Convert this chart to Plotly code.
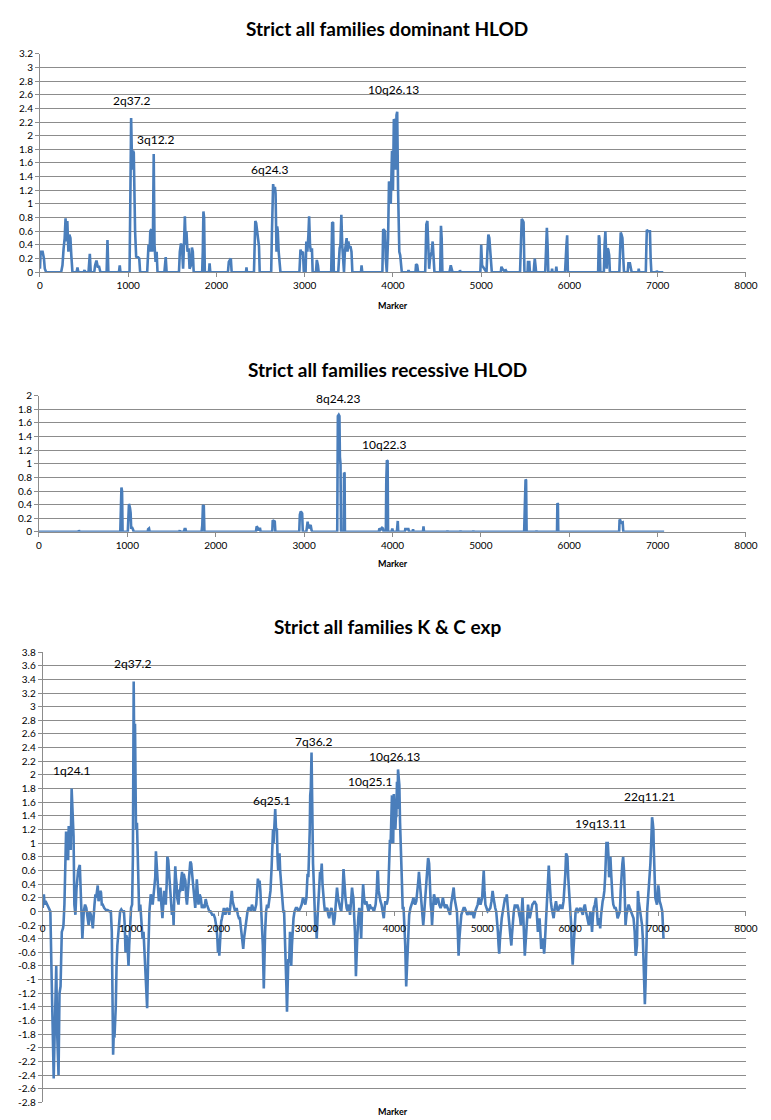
import plotly.graph_objects as go

W, H = 771, 1120

# ---------------- data (marker, value) ----------------
dom_pts = [
    (0,0.05),(8,0.3),(30,0.3),(45,0.2),(55,0.05),(70,0),(240,0),(255,0.1),(268,0.35),(280,0.5),
    (290,0.79),(300,0.45),(310,0.75),(322,0.3),(333,0.55),(345,0.5),(355,0.25),(368,0),(415,0),(425,0.07),
    (435,0),(495,0),(505,0.03),(515,0),(550,0),(558,0.2),(565,0.27),(575,0),(615,0),(625,0.1),
    (640,0.17),(655,0.08),(670,0.08),(685,0),(755,0),(765,0.47),(775,0),(895,0),(904,0.1),(912,0),
    (1015,0),(1025,1.2),(1033,2.26),(1045,1.5),(1055,1.78),(1063,1.75),(1070,0.9),(1078,0.6),(1090,0.23),(1110,0.22),
    (1125,0.2),(1135,0),(1215,0),(1222,0.15),(1230,0.4),(1242,0.3),(1250,0.6),(1262,0.63),(1272,0.3),(1280,0.5),
    (1289,1.73),(1298,0.4),(1310,0.15),(1322,0.3),(1332,0),(1410,0),(1418,0.2),(1425,0.22),(1435,0),(1575,0),
    (1585,0.3),(1598,0.42),(1610,0.35),(1622,0.05),(1632,0.4),(1642,0.82),(1652,0.4),(1660,0.6),(1672,0.3),(1685,0.35),
    (1695,0.05),(1710,0.1),(1722,0.36),(1732,0.3),(1742,0),(1838,0),(1845,0.3),(1852,0.89),(1860,0.8),(1868,0),
    (1915,0),(1922,0.13),(1930,0),(2130,0),(2140,0.15),(2155,0.2),(2163,0.2),(2172,0),(2335,0),(2340,0.07),
    (2346,0),(2425,0),(2432,0.5),(2440,0.75),(2450,0.72),(2460,0.6),(2470,0.45),(2482,0.38),(2490,0),(2620,0),
    (2628,0.55),(2635,1.2),(2642,1.29),(2652,1.18),(2662,1.25),(2670,1.15),(2680,0.3),(2688,0.67),(2695,0.6),(2705,0.3),
    (2715,0.1),(2725,0),(2940,0),(2947,0.2),(2952,0.33),(2965,0.28),(2980,0.3),(2990,0),(3010,0),(3018,0.45),
    (3030,0.3),(3042,0.55),(3050,0.82),(3060,0.4),(3070,0.3),(3082,0.35),(3090,0),(3128,0),(3137,0.18),(3150,0.1),
    (3158,0),(3300,0),(3305,0.5),(3311,0.73),(3322,0.72),(3330,0),(3380,0),(3390,0.3),(3396,0.35),(3405,0.4),
    (3415,0.84),(3425,0.4),(3435,0.1),(3445,0),(3455,0.3),(3465,0.4),(3475,0.5),(3485,0.3),(3495,0.45),(3505,0.35),
    (3518,0.38),(3530,0.3),(3540,0),(3638,0),(3644,0.1),(3652,0),(3880,0),(3889,0.63),(3900,0.62),(3910,0.6),
    (3918,0.2),(3930,0),(3945,0.5),(3955,1.33),(3963,1.3),(3975,1.0),(3989,1.78),(4000,1.2),(4010,2.24),(4020,2.22),
    (4030,1.5),(4040,2.3),(4048,2.35),(4058,1.2),(4065,0.6),(4072,0.3),(4082,0.25),(4092,0.15),(4100,0),(4170,0),
    (4176,0.03),(4185,0),(4255,0),(4262,0.12),(4275,0.1),(4285,0),(4365,0),(4372,0.35),(4378,0.7),(4390,0.75),
    (4400,0.4),(4410,0.05),(4420,0.2),(4438,0.3),(4450,0.45),(4460,0.2),(4470,0),(4535,0),(4540,0.55),(4544,0.68),
    (4552,0.5),(4560,0),(4640,0),(4648,0.05),(4655,0.1),(4665,0.05),(4675,0),(4755,0),(4759,0.03),(4765,0),
    (4990,0),(4996,0.2),(5000,0.4),(5010,0.1),(5060,0),(5070,0.3),(5081,0.55),(5092,0.5),(5100,0.35),(5112,0.05),
    (5120,0),(5222,0),(5229,0.08),(5240,0.05),(5260,0.02),(5278,0.03),(5290,0),(5440,0),(5450,0.5),(5459,0.78),
    (5470,0.76),(5480,0.73),(5490,0),(5525,0),(5530,0.15),(5545,0.15),(5552,0),(5595,0),(5600,0.1),(5607,0.2),
    (5615,0.1),(5622,0),(5725,0),(5735,0.35),(5744,0.65),(5752,0.4),(5760,0),(5798,0),(5803,0.05),(5808,0),
    (5845,0),(5851,0.08),(5858,0),(5950,0),(5958,0.3),(5966,0.4),(5974,0.54),(5982,0),(6325,0),(6333,0.54),
    (6340,0.5),(6350,0),(6390,0),(6398,0.4),(6407,0.6),(6415,0.3),(6422,0.05),(6432,0.35),(6440,0.33),(6450,0.25),
    (6458,0),(6565,0),(6572,0.45),(6581,0.58),(6590,0.55),(6600,0.5),(6610,0.2),(6618,0),(6660,0),(6668,0.13),
    (6685,0.13),(6695,0.08),(6705,0),(6780,0),(6785,0.05),(6790,0),(6865,0),(6872,0.4),(6877,0.62),(6890,0.6),
    (6905,0.6),(6912,0.6),(6920,0.2),(6928,0),(6985,0),(6990,0.02),(6998,0),(7063,0),
]

rec_pts = [
    (0,0),(445,0),(452,0.02),(460,0),(920,0),(926,0.2),(933,0.65),(940,0.6),(946,0),(1005,0),
    (1012,0.3),(1018,0.41),(1030,0.35),(1037,0.28),(1043,0.06),(1055,0.06),(1065,0.03),(1072,0),(1230,0),(1235,0.04),
    (1245,0.05),(1252,0),(1585,0),(1593,0.02),(1600,0),(1640,0),(1648,0.04),(1658,0.04),(1665,0),(1840,0),
    (1848,0.1),(1855,0.38),(1865,0.39),(1872,0),(2455,0),(2463,0.08),(2475,0.06),(2485,0.02),(2500,0.06),(2508,0),
    (2640,0),(2645,0.17),(2655,0.16),(2668,0.15),(2675,0),(2945,0),(2952,0.25),(2963,0.3),(2978,0.27),(2985,0),
    (3025,0),(3032,0.15),(3040,0.15),(3050,0.05),(3065,0.1),(3074,0.1),(3085,0.02),(3095,0),(3375,0),(3382,1.7),
    (3392,1.72),(3400,1.7),(3405,1.1),(3412,1.0),(3418,0),(3448,0),(3452,0.87),(3458,0.86),(3462,0),(3845,0),
    (3852,0.05),(3865,0.03),(3882,0.06),(3892,0.05),(3900,0),(3925,0),(3930,0.75),(3937,1.05),(3945,1.04),(3950,0),
    (3990,0),(3998,0.05),(4005,0),(4050,0),(4055,0.16),(4060,0.16),(4065,0),(4140,0),(4145,0.04),(4180,0.04),
    (4188,0),(4228,0),(4233,0.04),(4238,0),(4345,0),(4351,0.08),(4357,0),(4618,0),(4622,0.02),(4626,0),
    (4766,0),(4770,0.02),(4774,0),(4911,0),(4915,0.02),(4919,0),(5490,0),(5495,0.3),(5500,0.45),(5506,0.77),
    (5512,0.76),(5518,0),(5626,0),(5630,0.02),(5634,0),(5862,0),(5866,0.42),(5872,0.41),(5876,0),(6565,0),
    (6570,0.18),(6578,0.17),(6585,0.13),(6605,0.14),(6612,0),(7074,0),
]

kc_pts = [
    (0,0.05),(13,0.25),(22,0.1),(32,0.15),(50,0.1),(69,0.05),(87,0.0),(99,-0.8),(106,-1.3),(113,-2.1),
    (125,-2.45),(134,-1.9),(143,-1.3),(154,-0.8),(165,-1.8),(180,-2.4),(191,-1.2),(203,-1.1),(210,-0.7),(217,-0.3),
    (230,-0.25),(236,-0.2),(247,0.1),(255,0.5),(266,1.17),(274,0.75),(281,1.17),(289,0.75),(296,1.25),(307,1.2),
    (318,0.9),(329,1.8),(340,1.45),(351,1.1),(360,0.1),(372,-0.05),(385,0.35),(403,0.6),(422,0.68),(433,0.2),
    (451,-0.4),(467,0.0),(482,0.1),(496,0.05),(510,-0.1),(522,-0.2),(535,0.0),(548,-0.05),(560,-0.15),(570,-0.25),
    (589,0.1),(600,0.25),(608,0.2),(617,0.3),(626,0.38),(635,0.15),(645,0.2),(655,0.3),(663,0.28),(672,0.1),
    (682,0.1),(700,0.05),(720,0.02),(738,0.02),(760,0.0),(775,0.0),(786,-0.3),(801,-2.1),(808,-1.8),(816,-1.85),
    (831,-1.4),(840,-0.8),(849,-0.5),(868,-0.2),(880,0.0),(894,0.03),(910,0.0),(924,0.0),(933,-0.2),(942,-0.6),
    (951,-0.35),(961,-0.4),(970,-0.6),(976,-0.8),(984,-0.5),(991,-0.3),(1005,0.05),(1017,0.1),(1026,0.8),(1035,3.37),
    (1043,2.0),(1050,2.75),(1056,1.4),(1061,1.2),(1072,1.3),(1084,0.55),(1097,0.0),(1110,0.1),(1122,-0.15),(1136,-0.4),
    (1147,-0.3),(1158,-0.6),(1167,-0.7),(1177,-1.0),(1188,-1.42),(1199,-0.7),(1207,-0.3),(1214,0.0),(1229,0.25),(1240,0.2),
    (1251,0.1),(1260,0.25),(1270,0.3),(1280,0.5),(1288,0.88),(1296,0.7),(1303,0.6),(1312,0.3),(1321,0.15),(1330,0.2),
    (1340,0.35),(1350,0.1),(1362,-0.1),(1371,0.1),(1381,0.3),(1390,0.2),(1400,0.1),(1410,0.4),(1418,0.8),(1428,0.75),
    (1437,0.6),(1445,0.5),(1452,0.35),(1460,0.2),(1470,-0.05),(1480,0.1),(1489,-0.2),(1498,0.3),(1508,0.66),(1515,0.5),
    (1523,0.4),(1530,0.2),(1537,0.1),(1545,0.1),(1555,0.3),(1563,0.3),(1574,0.45),(1585,0.58),(1594,0.3),(1604,0.55),
    (1613,0.5),(1623,0.45),(1632,0.2),(1641,0.1),(1650,0.25),(1660,0.4),(1670,0.5),(1679,0.73),(1689,0.7),(1698,0.55),
    (1707,0.4),(1716,0.3),(1726,0.15),(1735,0.05),(1744,0.2),(1753,0.47),(1762,0.3),(1772,0.1),(1785,0.25),(1798,0.2),
    (1811,0.05),(1824,0.1),(1840,0.05),(1854,0.18),(1868,0.1),(1883,0.05),(1896,0.0),(1909,0.0),(1928,-0.05),(1946,-0.05),
    (1960,-0.1),(1972,-0.2),(1985,-0.35),(1994,-0.6),(2002,-0.4),(2009,-0.65),(2020,-0.3),(2030,-0.15),(2039,-0.1),(2050,0.0),
    (2061,0.05),(2078,-0.05),(2095,0.05),(2110,0.02),(2122,-0.05),(2132,0.05),(2145,0.2),(2151,0.3),(2160,0.15),(2169,0.1),
    (2185,0.02),(2196,0.0),(2206,0.05),(2220,-0.05),(2232,-0.1),(2243,-0.1),(2253,-0.2),(2262,-0.3),(2272,-0.45),(2281,-0.55),
    (2290,-0.4),(2299,-0.3),(2308,-0.15),(2318,-0.05),(2330,0.0),(2342,0.05),(2355,0.05),(2370,0.0),(2380,0.1),(2392,0.05),
    (2410,0.0),(2429,0.1),(2440,0.3),(2448,0.48),(2458,0.4),(2467,0.45),(2476,0.3),(2485,0.1),(2495,-0.2),(2504,-0.5),
    (2515,-1.13),(2523,-0.6),(2530,-0.3),(2541,0.0),(2552,0.1),(2565,0.05),(2578,0.2),(2591,0.3),(2604,0.65),(2613,0.9),
    (2620,1.2),(2626,1.0),(2632,1.2),(2640,1.3),(2645,1.5),(2654,1.2),(2664,1.2),(2671,0.8),(2679,0.6),(2686,0.8),
    (2694,0.85),(2701,0.6),(2709,0.45),(2718,0.2),(2727,0.1),(2737,0.0),(2746,0.0),(2755,-0.3),(2764,-0.8),(2772,-1.1),
    (2779,-1.47),(2786,-1.0),(2794,-0.7),(2804,-0.75),(2813,-0.3),(2820,-0.5),(2827,-0.8),(2835,-0.5),(2842,-0.3),(2853,-0.1),
    (2865,0.0),(2880,0.05),(2894,0.05),(2912,0.0),(2931,0.05),(2946,0.1),(2961,0.2),(2975,0.15),(2987,0.1),(3000,0.2),
    (3006,0.4),(3013,0.55),(3022,0.5),(3032,0.85),(3038,1.2),(3043,1.7),(3050,1.8),(3058,2.33),(3063,1.5),(3069,1.1),
    (3075,0.7),(3080,0.55),(3086,0.3),(3091,0.0),(3097,-0.2),(3103,-0.3),(3110,-0.2),(3117,-0.4),(3126,-0.1),(3136,0.2),
    (3145,0.4),(3155,0.58),(3164,0.5),(3174,0.7),(3183,0.4),(3192,0.2),(3202,0.1),(3211,0.0),(3224,0.03),(3237,0.05),
    (3248,-0.05),(3259,-0.1),(3272,0.0),(3285,0.05),(3298,-0.05),(3311,-0.2),(3322,-0.1),(3333,0.1),(3340,0.2),(3348,0.35),
    (3359,0.2),(3370,0.1),(3383,0.05),(3396,0.0),(3409,0.2),(3422,0.62),(3432,0.4),(3444,0.2),(3457,0.05),(3470,0.0),
    (3483,0.1),(3496,-0.05),(3508,0.15),(3519,0.35),(3527,0.25),(3534,0.2),(3544,-0.1),(3552,-0.3),(3563,-0.95),(3570,-0.6),
    (3578,-0.4),(3590,-0.1),(3601,0.05),(3612,-0.1),(3623,-0.4),(3634,0.1),(3645,0.4),(3656,0.2),(3668,0.1),(3681,0.15),
    (3694,0.05),(3707,0.0),(3720,0.1),(3735,0.05),(3750,0.05),(3768,0.0),(3787,0.1),(3800,0.3),(3808,0.58),(3813,0.6),
    (3822,0.3),(3831,0.2),(3842,0.15),(3854,0.1),(3867,0.0),(3880,-0.1),(3889,0.05),(3898,0.15),(3913,0.1),(3928,0.2),
    (3936,0.5),(3943,0.8),(3950,1.05),(3958,1.0),(3966,1.3),(3973,1.7),(3980,1.2),(3987,1.0),(3994,1.72),(4003,1.3),
    (4012,1.2),(4018,1.4),(4023,1.4),(4030,1.9),(4036,1.5),(4042,2.08),(4050,1.9),(4057,1.85),(4065,1.3),(4072,0.85),
    (4080,0.6),(4087,0.4),(4095,0.05),(4105,0.05),(4114,-0.2),(4124,-0.5),(4135,-1.1),(4143,-0.8),(4150,-0.5),(4160,-0.2),
    (4169,-0.05),(4183,0.05),(4198,0.1),(4208,0.15),(4217,0.2),(4227,0.15),(4236,0.1),(4250,0.15),(4265,0.3),(4273,0.45),
    (4280,0.58),(4290,0.4),(4303,0.2),(4315,0.0),(4329,-0.2),(4338,-0.05),(4347,0.1),(4356,0.3),(4366,0.48),(4375,0.6),
    (4384,0.78),(4390,0.75),(4396,0.7),(4405,0.3),(4414,0.1),(4422,0.0),(4429,-0.2),(4440,0.05),(4451,0.25),(4460,0.2),
    (4470,0.1),(4483,0.15),(4496,0.2),(4511,0.1),(4526,0.05),(4540,0.1),(4552,0.2),(4565,0.1),(4578,0.05),(4593,0.1),
    (4608,0.05),(4620,0.0),(4634,-0.05),(4645,0.1),(4656,0.2),(4665,0.3),(4675,0.35),(4684,0.2),(4694,0.1),(4703,0.05),
    (4712,0.0),(4722,-0.3),(4731,-0.65),(4740,-0.4),(4749,-0.2),(4762,-0.05),(4775,0.0),(4788,0.05),(4801,0.05),(4816,0.0),
    (4831,-0.05),(4850,0.0),(4868,-0.05),(4886,0.0),(4905,-0.1),(4920,0.0),(4935,0.05),(4948,0.1),(4961,0.2),(4970,0.15),
    (4980,0.1),(4990,0.15),(4999,0.2),(5008,0.4),(5017,0.6),(5026,0.3),(5036,0.1),(5049,0.05),(5062,0.0),(5077,0.02),
    (5092,0.05),(5105,0.15),(5118,0.3),(5128,0.2),(5137,0.1),(5148,0.05),(5159,0.0),(5168,-0.1),(5178,-0.3),(5186,-0.5),
    (5193,-0.62),(5202,-0.4),(5211,-0.2),(5222,-0.1),(5234,0.0),(5247,0.1),(5260,0.2),(5270,0.15),(5279,0.25),(5288,0.1),
    (5297,0.0),(5306,-0.15),(5316,-0.3),(5323,-0.4),(5331,-0.5),(5338,-0.35),(5346,-0.2),(5359,0.0),(5372,0.1),(5385,0.05),
    (5398,0.1),(5410,0.05),(5421,-0.05),(5430,-0.1),(5439,-0.2),(5448,0.0),(5458,0.2),(5465,0.0),(5473,-0.3),(5478,-0.5),
    (5484,-0.65),(5494,-0.45),(5503,-0.3),(5512,-0.1),(5521,0.1),(5530,0.0),(5540,-0.1),(5555,0.0),(5570,0.1),(5583,0.12),
    (5596,0.15),(5605,0.12),(5615,0.1),(5624,-0.1),(5633,-0.3),(5642,-0.2),(5652,-0.1),(5661,-0.3),(5671,-0.55),(5680,-0.45),
    (5689,-0.4),(5697,-0.5),(5704,-0.62),(5711,-0.5),(5719,-0.3),(5727,0.0),(5734,0.1),(5742,0.25),(5749,0.4),(5757,0.67),
    (5764,0.5),(5771,0.3),(5780,0.15),(5790,0.05),(5800,0.0),(5812,-0.1),(5825,0.05),(5839,0.15),(5850,0.05),(5861,0.0),
    (5874,0.05),(5887,0.1),(5900,0.05),(5913,0.05),(5925,0.15),(5935,0.3),(5945,0.55),(5954,0.85),(5962,0.8),(5969,0.8),
    (5978,0.5),(5988,0.3),(5997,0.1),(6006,0.0),(6012,-0.2),(6017,-0.5),(6023,-0.6),(6029,-0.78),(6036,-0.6),(6044,-0.4),
    (6053,-0.15),(6062,0.0),(6077,0.05),(6092,0.0),(6105,0.02),(6118,0.05),(6131,0.0),(6144,-0.05),(6155,0.05),(6167,0.1),
    (6180,0.0),(6193,-0.1),(6202,-0.15),(6212,-0.2),(6221,-0.1),(6230,0.0),(6240,-0.1),(6249,-0.3),(6258,-0.1),(6268,0.05),
    (6281,0.1),(6294,0.2),(6305,0.0),(6316,-0.2),(6329,-0.1),(6342,-0.25),(6352,-0.05),(6361,0.1),(6370,0.15),(6379,0.2),
    (6389,0.3),(6398,0.5),(6405,0.8),(6413,1.0),(6420,1.0),(6428,1.0),(6436,0.8),(6443,0.5),(6450,0.6),(6458,0.8),
    (6465,0.6),(6473,0.3),(6482,0.2),(6491,0.1),(6505,0.05),(6518,0.05),(6529,0.0),(6540,-0.1),(6553,-0.05),(6566,0.0),
    (6575,0.3),(6585,0.6),(6594,0.7),(6603,0.8),(6609,0.7),(6615,0.55),(6622,0.2),(6630,-0.2),(6641,-0.05),(6652,0.05),
    (6665,0.1),(6678,0.05),(6693,0.0),(6708,-0.05),(6721,-0.1),(6734,-0.3),(6740,-0.5),(6745,-0.65),(6752,-0.6),(6760,-0.5),
    (6766,-0.1),(6771,0.3),(6780,0.15),(6790,0.05),(6800,0.0),(6809,-0.1),(6818,-0.2),(6827,-0.4),(6833,-0.6),(6838,-0.9),
    (6844,-1.2),(6850,-1.36),(6857,-1.1),(6865,-0.8),(6870,-0.4),(6876,0.0),(6884,0.15),(6891,0.3),(6902,0.45),(6913,0.7),
    (6922,1.0),(6932,1.38),(6940,1.3),(6947,1.2),(6952,0.9),(6958,0.6),(6964,0.4),(6969,0.2),(6978,0.15),(6988,0.1),
    (6996,0.25),(7003,0.38),(7010,0.3),(7018,0.15),(7030,0.1),(7040,0.05),(7048,0.0),(7055,-0.2),(7062,-0.4),
]

titles = ["Strict all families dominant HLOD",
          "Strict all families recessive HLOD",
          "Strict all families K & C exp"]

dom_labels = [("2q37.2", 1037, 2.51), ("3q12.2", 1314, 1.94),
              ("6q24.3", 2603, 1.51), ("10q26.13", 4003, 2.67)]
rec_labels = [("8q24.23", 3389, 1.96), ("10q22.3", 3899, 1.29)]
kc_labels = [("2q37.2", 1021, 3.64), ("1q24.1", 329, 2.07), ("6q25.1", 2606, 1.62),
             ("7q36.2", 3075, 2.49), ("10q26.13", 4001, 2.27), ("10q25.1", 3722, 1.91),
             ("19q13.11", 6345, 1.29), ("22q11.21", 6903, 1.69)]

x_ticks = [0, 1000, 2000, 3000, 4000, 5000, 6000, 7000, 8000]
dom_yticks = [0, 0.2, 0.4, 0.6, 0.8, 1, 1.2, 1.4, 1.6, 1.8, 2, 2.2, 2.4, 2.6, 2.8, 3, 3.2]
dom_ytext = ["0", "0.2", "0.4", "0.6", "0.8", "1", "1.2", "1.4", "1.6", "1.8", "2", "2.2", "2.4",
             "2.6", "2.8", "3", "3.2"]
rec_yticks = [0, 0.2, 0.4, 0.6, 0.8, 1, 1.2, 1.4, 1.6, 1.8, 2]
rec_ytext = ["0", "0.2", "0.4", "0.6", "0.8", "1", "1.2", "1.4", "1.6", "1.8", "2"]
kc_yticks = [-2.8, -2.6, -2.4, -2.2, -2, -1.8, -1.6, -1.4, -1.2, -1, -0.8, -0.6, -0.4, -0.2, 0,
             0.2, 0.4, 0.6, 0.8, 1, 1.2, 1.4, 1.6, 1.8, 2, 2.2, 2.4, 2.6, 2.8, 3, 3.2, 3.4, 3.6, 3.8]
kc_ytext = ["-2.8", "-2.6", "-2.4", "-2.2", "-2", "-1.8", "-1.6", "-1.4", "-1.2", "-1", "-0.8",
            "-0.6", "-0.4", "-0.2", "0", "0.2", "0.4", "0.6", "0.8", "1", "1.2", "1.4", "1.6",
            "1.8", "2", "2.2", "2.4", "2.6", "2.8", "3", "3.2", "3.4", "3.6", "3.8"]

# ---------------- styling ----------------
LINE = "#4a7ebb"
GRID = "#8c8c8c"
FONT = "Lato"

def px_x(p):
    return p / W

def px_y(p):
    return 1 - p / H

# pixel geometry of the three plot areas: (x0, x1, y_bottom, y_top)
panels = [
    (37.7, 757.7, 268.3, 47.3, [0, 3.2], dom_yticks, dom_ytext),
    (36.7, 757.7, 531.0, 393.3, [0, 2], rec_yticks, rec_ytext),
    (40.5, 757.7, 1108.3, 652.7, [-2.8, 3.8], kc_yticks, kc_ytext),
]
title_y = [22, 367, 627]
marker_y = [302, 563, 1117]

fig = go.Figure()
series = [dom_pts, rec_pts, kc_pts]
for i, pts in enumerate(series):
    xs = [p[0] for p in pts]
    ys = [p[1] for p in pts]
    sfx = "" if i == 0 else str(i + 1)
    fig.add_trace(go.Scatter(x=xs, y=ys, mode="lines", xaxis="x" + sfx, yaxis="y" + sfx,
                             line=dict(color=LINE, width=2.6), showlegend=False,
                             hoverinfo="x+y"))

layout = dict(width=W, height=H, margin=dict(l=0, r=0, t=0, b=0),
              paper_bgcolor="white", plot_bgcolor="white", showlegend=False,
              font=dict(family=FONT, color="#000000", size=10))

for i, (x0, x1, yb, yt, yr, tv, tt) in enumerate(panels):
    sfx = "" if i == 0 else str(i + 1)
    ydom = [px_y(yb), px_y(yt)]
    xa = dict(domain=[px_x(x0), px_x(x1)], range=[0, 8000], tickmode="array",
              tickvals=x_ticks, ticktext=[str(v) for v in x_ticks],
              showgrid=False, zeroline=False, showline=True, linecolor=GRID, linewidth=1,
              ticks="outside", ticklen=4, tickcolor=GRID, tickfont=dict(size=10, family=FONT),
              fixedrange=True)
    if i == 2:
        zero_frac = (0 - yr[0]) / (yr[1] - yr[0])
        xa.update(anchor="free", position=ydom[0] + zero_frac * (ydom[1] - ydom[0]),
                  ticklabelstandoff=4)
    else:
        xa.update(anchor="y" + sfx)
    ya = dict(domain=ydom, range=yr, tickmode="array", tickvals=tv, ticktext=tt,
              showgrid=True, gridcolor=GRID, gridwidth=1, zeroline=False,
              showline=True, linecolor=GRID, linewidth=1, ticks="outside", ticklen=4,
              tickcolor=GRID, tickfont=dict(size=10, family=FONT), anchor="x" + sfx,
              fixedrange=True)
    layout["xaxis" + sfx] = xa
    layout["yaxis" + sfx] = ya

fig.update_layout(**layout)

annotations = []
for i, t in enumerate(titles):
    annotations.append(dict(text="<b>" + t + "</b>", x=px_x(392), y=px_y(title_y[i]),
                            xref="paper", yref="paper", showarrow=False,
                            xanchor="center", yanchor="middle",
                            font=dict(size=19, family=FONT, color="#000000")))
    annotations.append(dict(text="<b>Marker</b>", x=px_x(398), y=px_y(marker_y[i]),
                            xref="paper", yref="paper", showarrow=False,
                            xanchor="center", yanchor="middle",
                            font=dict(size=9, family=FONT, color="#000000")))

for i, labels in enumerate([dom_labels, rec_labels, kc_labels]):
    sfx = "" if i == 0 else str(i + 1)
    for txt, lx, ly in labels:
        annotations.append(dict(text=txt, x=lx, y=ly, xref="x" + sfx, yref="y" + sfx,
                                showarrow=False, xanchor="center", yanchor="middle",
                                font=dict(size=12, family=FONT, color="#000000")))

fig.update_layout(annotations=annotations)
fig.write_html("out.html")
